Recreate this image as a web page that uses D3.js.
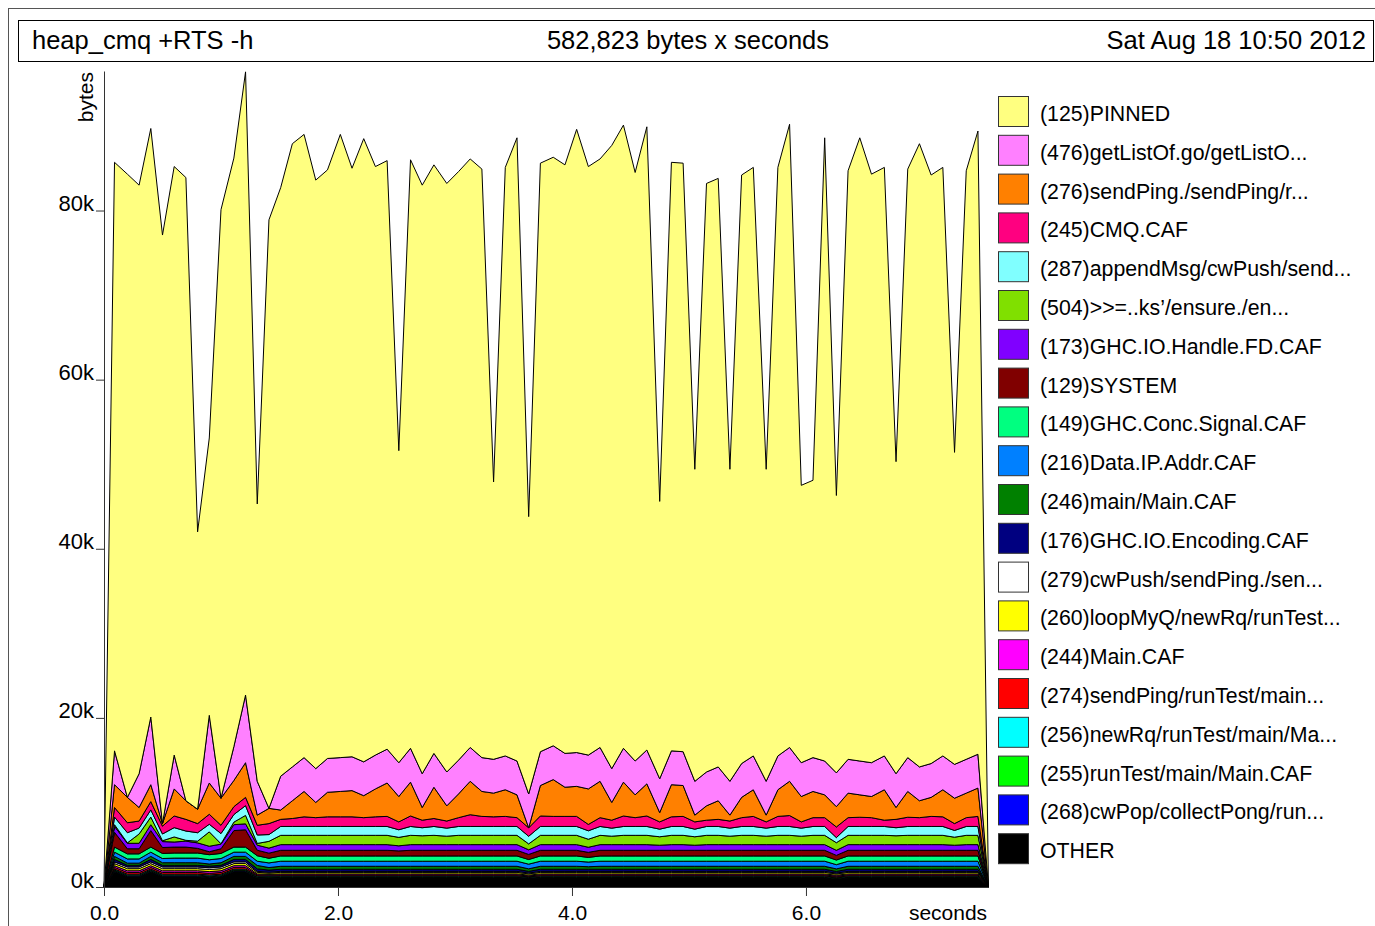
<!DOCTYPE html>
<html>
<head>
<meta charset="utf-8">
<script src="https://cdn.jsdelivr.net/npm/d3@7"></script>
<style>
  body { margin: 0; background: #fff; }
  text { font-family: "Liberation Sans", Arial, Helvetica, sans-serif; fill: #000; }
</style>
</head>
<body>
<svg width="1375" height="926"></svg>
<script>
// sample times (seconds); the first and last samples are empty
var times = [0, 0.09, 0.20, 0.30, 0.40, 0.50, 0.60, 0.70, 0.80, 0.90, 1.00,
  1.11, 1.21, 1.31, 1.41, 1.51, 1.61, 1.71, 1.81, 1.91, 2.02,
  2.12, 2.22, 2.32, 2.42, 2.52, 2.62, 2.72, 2.82, 2.93, 3.03,
  3.13, 3.23, 3.33, 3.43, 3.53, 3.63, 3.73, 3.84, 3.94, 4.04,
  4.14, 4.24, 4.34, 4.44, 4.54, 4.64, 4.75, 4.85, 4.95, 5.05,
  5.15, 5.25, 5.35, 5.45, 5.55, 5.66, 5.76, 5.86, 5.96, 6.06,
  6.16, 6.26, 6.36, 6.46, 6.56, 6.67, 6.77, 6.87, 6.97, 7.07,
  7.17, 7.27, 7.37, 7.47, 7.56];

// heap per cost centre, k bytes, one value per non-empty sample
var pinned = [69.6, 73.7, 69.6, 69.6, 69.6, 69.6, 73.7, 32.8, 32.8, 69.6,
  69.6, 73.7, 32.8, 69.6, 69.6, 73.7, 73.7, 69.6, 69.6, 73.7,
  69.6, 73.7, 69.6, 69.6, 36.9, 69.6, 69.6, 69.6, 69.6, 69.6,
  69.6, 69.6, 32.8, 69.6, 73.7, 32.8, 69.6, 69.6, 69.6, 73.7,
  69.6, 69.6, 73.7, 73.7, 69.6, 73.7, 32.8, 69.6, 69.6, 36.9,
  69.6, 69.6, 36.9, 69.6, 69.6, 36.9, 69.6, 73.7, 32.8, 32.8,
  73.7, 32.8, 69.6, 73.7, 69.6, 69.6, 36.9, 69.6, 73.7, 69.6,
  69.6, 36.9, 69.6, 73.7];
var getListOf = [4.0, 0, 4.0, 8.0, 0, 4.0, 0, 0, 8.0, 0,
  4.0, 8.0, 4.0, 0, 4.0, 4.0, 4.0, 4.0, 4.0, 4.0,
  4.0, 4.0, 4.0, 4.0, 4.0, 4.0, 4.0, 4.0, 4.0, 4.0,
  4.0, 4.0, 4.0, 4.0, 4.0, 4.0, 4.0, 4.0, 4.0, 4.0,
  4.0, 4.0, 4.0, 4.0, 4.0, 4.0, 4.0, 4.0, 4.0, 4.0,
  4.0, 4.0, 4.0, 4.0, 4.0, 4.0, 4.0, 4.0, 4.0, 4.0,
  4.0, 4.0, 4.0, 4.0, 4.0, 4.0, 4.0, 4.0, 4.0, 4.0,
  4.0, 4.0, 4.0, 4.0];
var sendPing = [2.7, 3.0, 1.6, 2.0, 0.3, 3.2, 2.2, 1.7, 3.7, 3.2,
  3.1, 4.1, 1.2, 1.8, 1.1, 2.1, 3.0, 1.8, 2.9, 3.0,
  3.1, 2.6, 3.3, 3.95, 3.0, 4.0, 1.5, 3.7, 1.8, 2.8,
  3.95, 2.95, 2.8, 3.15, 2.7, 0.0, 3.6, 4.35, 3.45, 3.55,
  4.2, 4.3, 2.1, 4.0, 2.7, 3.8, 1.1, 3.8, 3.65, 0.8,
  1.7, 2.2, 0.7, 2.4, 3.15, 0.8, 3.15, 4.05, 3.0, 3.1,
  2.7, 2.4, 2.9, 2.65, 2.5, 3.6, 1.4, 3.05, 2.0, 2.25,
  3.2, 3.0, 2.9, 3.35];
var cmqCaf = [1.13, 1.18, 0.83, 0.98, 0.93, 1.38, 1.38, 1.08, 1.18, 0.98,
  0.93, 0.98, 1.15, 1.3, 0.84, 0.94, 1.14, 1.04, 1.14, 1.14,
  1.14, 1.04, 1.14, 1.19, 0.93, 1.24, 0.89, 0.94, 0.84, 1.04,
  1.39, 1.19, 1.14, 1.19, 1.04, 1.0, 1.24, 1.19, 1.19, 1.19,
  0.75, 1.04, 0.94, 1.24, 1.04, 1.24, 0.86, 1.14, 1.19, 0.86,
  0.74, 0.84, 0.84, 1.04, 1.19, 0.74, 1.19, 1.29, 0.74, 1.04,
  1.04, 1.26, 1.04, 1.09, 1.04, 0.74, 0.99, 1.09, 1.04, 1.19,
  1.14, 0.81, 1.04, 1.19];
var appendMsg = [0.9, 1.2, 0.7, 0.85, 0.8, 1.1, 1.1, 1.0, 0.9, 1.2,
  0.9, 1.15, 1.0, 0.8, 1.05, 1.05, 1.05, 1.05, 1.05, 1.05,
  1.05, 1.05, 1.05, 1.05, 0.9, 1.05, 0.95, 1.05, 0.95, 1.05,
  1.05, 1.05, 1.05, 1.05, 1.05, 0.9, 1.05, 1.05, 1.05, 1.05,
  1.0, 1.05, 0.95, 1.05, 1.05, 1.05, 0.9, 1.05, 1.05, 0.9,
  1.05, 1.05, 0.95, 1.05, 1.05, 0.95, 1.05, 1.05, 0.95, 1.05,
  1.05, 0.6, 1.05, 1.05, 1.05, 1.05, 0.95, 1.05, 1.05, 1.05,
  1.05, 0.8, 1.05, 1.05];
var ensure = [0.2, 0.05, 1.1, 0.9, 0.1, 0.6, 0.1, 0.2, 1.7, 0.05,
  0.3, 1.0, 0.2, 0.8, 1.1, 1.1, 1.1, 1.1, 1.1, 1.1,
  1.1, 1.1, 1.1, 1.1, 1.0, 1.1, 1.05, 1.1, 1.0, 1.1,
  1.1, 1.1, 1.1, 1.1, 1.1, 0.7, 1.1, 1.1, 1.1, 1.1,
  0.95, 1.1, 1.0, 1.1, 1.1, 1.1, 1.0, 1.1, 1.1, 1.0,
  1.1, 1.1, 1.0, 1.1, 1.1, 1.0, 1.1, 1.1, 1.0, 1.1,
  1.1, 0.9, 1.1, 1.1, 1.1, 1.1, 1.05, 1.1, 1.1, 1.1,
  1.1, 0.95, 1.1, 1.1];
var handleFd = [0.7, 0.65, 0.65, 0.7, 0.7, 0.6, 0.7, 0.65, 0.65, 0.55,
  0.7, 0.7, 0.6, 0.6, 0.67, 0.67, 0.67, 0.67, 0.67, 0.67,
  0.67, 0.67, 0.67, 0.67, 0.6, 0.67, 0.67, 0.67, 0.67, 0.67,
  0.67, 0.67, 0.67, 0.67, 0.67, 0.55, 0.67, 0.67, 0.67, 0.67,
  0.6, 0.67, 0.67, 0.67, 0.67, 0.67, 0.6, 0.67, 0.67, 0.6,
  0.67, 0.67, 0.67, 0.67, 0.67, 0.67, 0.67, 0.67, 0.67, 0.67,
  0.67, 0.6, 0.67, 0.67, 0.67, 0.67, 0.67, 0.67, 0.67, 0.67,
  0.67, 0.6, 0.67, 0.67];
var system = [1.75, 0.6, 0.6, 1.95, 0.7, 0.7, 0.7, 0.55, 0.35, 0.55,
  1.95, 2.05, 0.65, 0.6, 0.67, 0.67, 0.67, 0.67, 0.67, 0.67,
  0.67, 0.67, 0.67, 0.67, 0.6, 0.67, 0.67, 0.67, 0.67, 0.67,
  0.67, 0.67, 0.67, 0.67, 0.67, 0.6, 0.67, 0.67, 0.67, 0.67,
  0.6, 0.67, 0.67, 0.67, 0.67, 0.67, 0.67, 0.67, 0.67, 0.67,
  0.67, 0.67, 0.67, 0.67, 0.67, 0.67, 0.67, 0.67, 0.67, 0.67,
  0.67, 0.55, 0.67, 0.67, 0.67, 0.67, 0.67, 0.67, 0.67, 0.67,
  0.67, 0.67, 0.67, 0.67];
var concSignal = [0.6, 0.6, 0.6, 0.6, 0.6, 0.6, 0.6, 0.6, 0.6, 0.6,
  0.6, 0.6, 0.65, 0.55, 0.62, 0.62, 0.62, 0.62, 0.62, 0.62,
  0.62, 0.62, 0.62, 0.62, 0.62, 0.62, 0.62, 0.62, 0.62, 0.62,
  0.62, 0.62, 0.62, 0.62, 0.62, 0.55, 0.62, 0.62, 0.62, 0.62,
  0.55, 0.62, 0.62, 0.62, 0.62, 0.62, 0.62, 0.62, 0.62, 0.62,
  0.62, 0.62, 0.62, 0.62, 0.62, 0.62, 0.62, 0.62, 0.62, 0.62,
  0.62, 0.55, 0.62, 0.62, 0.62, 0.62, 0.62, 0.62, 0.62, 0.62,
  0.62, 0.62, 0.62, 0.62];
var ipAddr = [0.5, 0.5, 0.5, 0.5, 0.5, 0.55, 0.55, 0.55, 0.5, 0.5,
  0.5, 0.5, 0.5, 0.55, 0.6, 0.6, 0.6, 0.6, 0.6, 0.6,
  0.6, 0.6, 0.6, 0.6, 0.6, 0.6, 0.6, 0.6, 0.6, 0.6,
  0.6, 0.6, 0.6, 0.6, 0.6, 0.55, 0.6, 0.6, 0.6, 0.6,
  0.55, 0.6, 0.6, 0.6, 0.6, 0.6, 0.6, 0.6, 0.6, 0.6,
  0.6, 0.6, 0.6, 0.6, 0.6, 0.6, 0.6, 0.6, 0.6, 0.6,
  0.6, 0.5, 0.6, 0.6, 0.6, 0.6, 0.6, 0.6, 0.6, 0.6,
  0.6, 0.6, 0.6, 0.6];
var mainCaf = [0.35, 0.25, 0.25, 0.35, 0.3, 0.3, 0.3, 0.3, 0.25, 0.3,
  0.35, 0.35, 0.4, 0.3, 0.35, 0.35, 0.35, 0.35, 0.35, 0.35,
  0.35, 0.35, 0.35, 0.35, 0.35, 0.35, 0.35, 0.35, 0.35, 0.35,
  0.35, 0.35, 0.35, 0.35, 0.35, 0.3, 0.35, 0.35, 0.35, 0.35,
  0.3, 0.35, 0.35, 0.35, 0.35, 0.35, 0.35, 0.35, 0.35, 0.35,
  0.35, 0.35, 0.35, 0.35, 0.35, 0.35, 0.35, 0.35, 0.35, 0.35,
  0.35, 0.3, 0.35, 0.35, 0.35, 0.35, 0.35, 0.35, 0.35, 0.35,
  0.35, 0.35, 0.35, 0.35];
var encoding = [0.3, 0.2, 0.2, 0.3, 0.2, 0.2, 0.2, 0.2, 0.2, 0.2,
  0.3, 0.3, 0.3, 0.25, 0.25, 0.25, 0.25, 0.25, 0.25, 0.25,
  0.25, 0.25, 0.25, 0.25, 0.25, 0.25, 0.25, 0.25, 0.25, 0.25,
  0.25, 0.25, 0.25, 0.25, 0.25, 0.2, 0.25, 0.25, 0.25, 0.25,
  0.25, 0.25, 0.25, 0.25, 0.25, 0.25, 0.25, 0.25, 0.25, 0.25,
  0.25, 0.25, 0.25, 0.25, 0.25, 0.25, 0.25, 0.25, 0.25, 0.25,
  0.25, 0.2, 0.25, 0.25, 0.25, 0.25, 0.25, 0.25, 0.25, 0.25,
  0.25, 0.25, 0.25, 0.25];
var cwPush = [0.2, 0.2, 0.2, 0.2, 0.2, 0.2, 0.2, 0.2, 0.2, 0.2,
  0.2, 0.2, 0.12, 0.1, 0.12, 0.12, 0.12, 0.12, 0.12, 0.12,
  0.12, 0.12, 0.12, 0.12, 0.12, 0.12, 0.12, 0.12, 0.12, 0.12,
  0.12, 0.12, 0.12, 0.12, 0.12, 0.1, 0.12, 0.12, 0.12, 0.12,
  0.12, 0.12, 0.12, 0.12, 0.12, 0.12, 0.12, 0.12, 0.12, 0.12,
  0.12, 0.12, 0.12, 0.12, 0.12, 0.12, 0.12, 0.12, 0.12, 0.12,
  0.12, 0.1, 0.12, 0.12, 0.12, 0.12, 0.12, 0.12, 0.12, 0.12,
  0.12, 0.12, 0.12, 0.12];
var loopMyQ = [0.25, 0.25, 0.25, 0.25, 0.25, 0.25, 0.25, 0.25, 0.25, 0.25,
  0.25, 0.25, 0.18, 0.15, 0.18, 0.18, 0.18, 0.18, 0.18, 0.18,
  0.18, 0.18, 0.18, 0.18, 0.18, 0.18, 0.18, 0.18, 0.18, 0.18,
  0.18, 0.18, 0.18, 0.18, 0.18, 0.15, 0.18, 0.18, 0.18, 0.18,
  0.18, 0.18, 0.18, 0.18, 0.18, 0.18, 0.18, 0.18, 0.18, 0.18,
  0.18, 0.18, 0.18, 0.18, 0.18, 0.18, 0.18, 0.18, 0.18, 0.18,
  0.18, 0.15, 0.18, 0.18, 0.18, 0.18, 0.18, 0.18, 0.18, 0.18,
  0.18, 0.18, 0.18, 0.18];
var mainCafTop = [0.2, 0.2, 0.2, 0.2, 0.2, 0.2, 0.2, 0.2, 0.2, 0.2,
  0.2, 0.2, 0.12, 0.1, 0.12, 0.12, 0.12, 0.12, 0.12, 0.12,
  0.12, 0.12, 0.12, 0.12, 0.12, 0.12, 0.12, 0.12, 0.12, 0.12,
  0.12, 0.12, 0.12, 0.12, 0.12, 0.1, 0.12, 0.12, 0.12, 0.12,
  0.12, 0.12, 0.12, 0.12, 0.12, 0.12, 0.12, 0.12, 0.12, 0.12,
  0.12, 0.12, 0.12, 0.12, 0.12, 0.12, 0.12, 0.12, 0.12, 0.12,
  0.12, 0.12, 0.12, 0.12, 0.12, 0.12, 0.12, 0.12, 0.12, 0.12,
  0.12, 0.12, 0.12, 0.12];
var sendPingRun = [0.2, 0.2, 0.2, 0.2, 0.2, 0.2, 0.2, 0.2, 0.2, 0.2,
  0.2, 0.2, 0.12, 0.1, 0.12, 0.12, 0.12, 0.12, 0.12, 0.12,
  0.12, 0.12, 0.12, 0.12, 0.12, 0.12, 0.12, 0.12, 0.12, 0.12,
  0.12, 0.12, 0.12, 0.12, 0.12, 0.1, 0.12, 0.12, 0.12, 0.12,
  0.12, 0.12, 0.12, 0.12, 0.12, 0.12, 0.12, 0.12, 0.12, 0.12,
  0.12, 0.12, 0.12, 0.12, 0.12, 0.12, 0.12, 0.12, 0.12, 0.12,
  0.12, 0.12, 0.12, 0.12, 0.12, 0.12, 0.12, 0.12, 0.12, 0.12,
  0.12, 0.12, 0.12, 0.12];
var newRq = [0.12, 0.12, 0.12, 0.12, 0.12, 0.12, 0.12, 0.12, 0.12, 0.12,
  0.12, 0.12, 0.1, 0.1, 0.1, 0.1, 0.1, 0.1, 0.1, 0.1,
  0.1, 0.1, 0.1, 0.1, 0.1, 0.1, 0.1, 0.1, 0.1, 0.1,
  0.1, 0.1, 0.1, 0.1, 0.1, 0.08, 0.1, 0.1, 0.1, 0.1,
  0.1, 0.1, 0.1, 0.1, 0.1, 0.1, 0.1, 0.1, 0.1, 0.1,
  0.1, 0.1, 0.1, 0.1, 0.1, 0.1, 0.1, 0.1, 0.1, 0.1,
  0.1, 0.08, 0.1, 0.1, 0.1, 0.1, 0.1, 0.1, 0.1, 0.1,
  0.1, 0.1, 0.1, 0.1];
var runTest = [0.1, 0.1, 0.1, 0.1, 0.1, 0.1, 0.1, 0.1, 0.1, 0.1,
  0.1, 0.1, 0.08, 0.1, 0.08, 0.08, 0.08, 0.08, 0.08, 0.08,
  0.08, 0.08, 0.08, 0.08, 0.08, 0.08, 0.08, 0.08, 0.08, 0.08,
  0.08, 0.08, 0.08, 0.08, 0.08, 0.06, 0.08, 0.08, 0.08, 0.08,
  0.08, 0.08, 0.08, 0.08, 0.08, 0.08, 0.08, 0.08, 0.08, 0.08,
  0.08, 0.08, 0.08, 0.08, 0.08, 0.08, 0.08, 0.08, 0.08, 0.08,
  0.08, 0.06, 0.08, 0.08, 0.08, 0.08, 0.08, 0.08, 0.08, 0.08,
  0.08, 0.08, 0.08, 0.08];
var cwPop = [0.1, 0.1, 0.1, 0.1, 0.1, 0.1, 0.1, 0.1, 0.1, 0.1,
  0.1, 0.1, 0.08, 0.1, 0.08, 0.08, 0.08, 0.08, 0.08, 0.08,
  0.08, 0.08, 0.08, 0.08, 0.08, 0.08, 0.08, 0.08, 0.08, 0.08,
  0.08, 0.08, 0.08, 0.08, 0.08, 0.06, 0.08, 0.08, 0.08, 0.08,
  0.08, 0.08, 0.08, 0.08, 0.08, 0.08, 0.08, 0.08, 0.08, 0.08,
  0.08, 0.08, 0.08, 0.08, 0.08, 0.08, 0.08, 0.08, 0.08, 0.08,
  0.08, 0.06, 0.08, 0.08, 0.08, 0.08, 0.08, 0.08, 0.08, 0.08,
  0.08, 0.08, 0.08, 0.08];
var other = [1.8, 1.2, 1.2, 1.8, 1.2, 1.2, 1.2, 1.2, 1.1, 1.2,
  1.8, 1.8, 1.05, 1.0, 1.05, 1.05, 1.05, 1.05, 1.05, 1.05,
  1.05, 1.05, 1.05, 1.05, 1.05, 1.05, 1.05, 1.05, 1.05, 1.05,
  1.05, 1.05, 1.05, 1.05, 1.05, 1.0, 1.05, 1.05, 1.05, 1.05,
  1.05, 1.05, 1.05, 1.05, 1.05, 1.05, 1.05, 1.05, 1.05, 1.05,
  1.05, 1.05, 1.05, 1.05, 1.05, 1.05, 1.05, 1.05, 1.05, 1.05,
  1.05, 0.95, 1.05, 1.05, 1.05, 1.05, 1.05, 1.05, 1.05, 1.05,
  1.05, 1.05, 1.05, 1.05];

// key, top to bottom
var labels = ["(125)PINNED", "(476)getListOf.go/getListO...", "(276)sendPing./sendPing/r...",
  "(245)CMQ.CAF", "(287)appendMsg/cwPush/send...", "(504)>>=..ks\u2019/ensure./en...",
  "(173)GHC.IO.Handle.FD.CAF", "(129)SYSTEM", "(149)GHC.Conc.Signal.CAF",
  "(216)Data.IP.Addr.CAF", "(246)main/Main.CAF", "(176)GHC.IO.Encoding.CAF",
  "(279)cwPush/sendPing./sen...", "(260)loopMyQ/newRq/runTest...", "(244)Main.CAF",
  "(274)sendPing/runTest/main...", "(256)newRq/runTest/main/Ma...", "(255)runTest/main/Main.CAF",
  "(268)cwPop/collectPong/run...", "OTHER"];
var series = [pinned, getListOf, sendPing, cmqCaf, appendMsg, ensure, handleFd, system,
  concSignal, ipAddr, mainCaf, encoding, cwPush, loopMyQ, mainCafTop, sendPingRun,
  newRq, runTest, cwPop, other];

var colors = ["#ffff80", "#ff80ff", "#ff8000", "#ff0080", "#80ffff", "#80e000",
  "#8000ff", "#800000", "#00ff80", "#0080ff", "#008000", "#000080",
  "#ffffff", "#ffff00", "#ff00ff", "#ff0000", "#00ffff", "#00ff00", "#0000ff", "#000000"];

series.forEach(function (s, k) {
  if (s.length !== times.length - 2) throw new Error("series " + k + " has " + s.length + " values");
});

var svg = d3.select("svg");

var xScale = d3.scaleLinear().domain([0, 7.556]).range([104, 988]);
var yScale = d3.scaleLinear().domain([0, 96.5]).range([887, 71]);

// frame and title box
svg.append("rect")
  .attr("x", 8.5).attr("y", 8.5).attr("width", 1400).attr("height", 1000)
  .attr("fill", "none").attr("stroke", "#555");
svg.append("rect")
  .attr("x", 18.5).attr("y", 20.5).attr("width", 1355).attr("height", 41)
  .attr("fill", "none").attr("stroke", "#000");

svg.append("text").attr("x", 32).attr("y", 49)
  .style("font-size", "25.5px").text("heap_cmq +RTS -h");
svg.append("text").attr("x", 688).attr("y", 49)
  .style("font-size", "25.5px").style("text-anchor", "middle")
  .text("582,823 bytes x seconds");
svg.append("text").attr("x", 1366).attr("y", 49)
  .style("font-size", "25.5px").style("text-anchor", "end")
  .text("Sat Aug 18 10:50 2012");

// one row per sample, empty at both ends
var rows = times.map(function (t, j) {
  var row = { t: t };
  series.forEach(function (vals, k) {
    row["s" + k] = j === 0 || j === times.length - 1 ? 0 : vals[j - 1];
  });
  return row;
});
var keys = series.map(function (v, k) { return "s" + k; }).reverse(); // OTHER at the bottom
var stacked = d3.stack().keys(keys)(rows);

var area = d3.area()
  .x(function (d) { return xScale(d.data.t); })
  .y0(function (d) { return yScale(d[0]); })
  .y1(function (d) { return yScale(d[1]); });

svg.append("g")
  .selectAll("path")
  .data(stacked)
  .enter()
  .append("path")
  .attr("d", area)
  .attr("fill", function (d) { return colors[+d.key.slice(1)]; })
  .attr("stroke", "#000")
  .attr("stroke-width", 1);

// axes
var yAxis = d3.axisLeft(yScale)
  .tickValues([0, 20, 40, 60, 80])
  .tickFormat(function (d) { return d + "k"; })
  .tickSize(8).tickSizeOuter(0).tickPadding(2);
var gy = svg.append("g").attr("transform", "translate(104,0)").call(yAxis);
gy.selectAll("text").attr("dy", "0").style("font-size", "22px");
gy.selectAll("path, line").attr("stroke", "#333");

var xAxis = d3.axisBottom(xScale)
  .tickValues([0, 2, 4, 6])
  .tickFormat(d3.format(".1f"))
  .tickSize(9).tickSizeOuter(0).tickPadding(9);
var gx = svg.append("g").attr("transform", "translate(0,887)").call(xAxis);
gx.selectAll("text").style("font-size", "21px");
gx.selectAll("path, line").attr("stroke", "#333");

svg.append("text")
  .attr("x", 948).attr("y", 920)
  .style("font-size", "21px").style("text-anchor", "middle")
  .text("seconds");

svg.append("text")
  .attr("transform", "translate(93,72) rotate(-90)")
  .style("font-size", "21px").style("text-anchor", "end")
  .text("bytes");

// key
var key = svg.append("g")
  .selectAll("g")
  .data(labels)
  .enter()
  .append("g")
  .attr("transform", function (d, i) { return "translate(998," + (96 + i * 38.8) + ")"; });
key.append("rect")
  .attr("x", 0.5).attr("y", 0.5).attr("width", 30).attr("height", 30)
  .attr("fill", function (d, i) { return colors[i]; })
  .attr("stroke", "#333");
key.append("text")
  .attr("x", 42).attr("y", 25)
  .style("font-size", "21.3px")
  .text(function (d) { return d; });
</script>
</body>
</html>
